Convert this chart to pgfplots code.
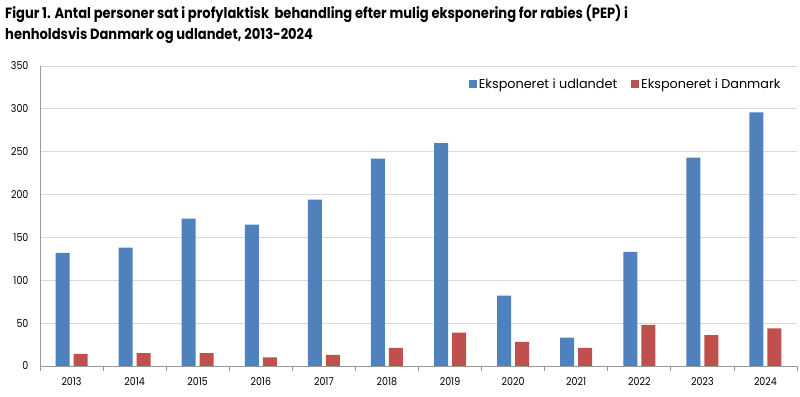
\documentclass[border=0pt]{standalone}
\usepackage{pgfplots}
\pgfplotsset{compat=1.18}
\usepackage{fontspec}
\setmainfont{Poppins}[FakeStretch=0.88]
\newfontfamily\legfont{Poppins}
\definecolor{cblue}{HTML}{4F81BD}
\definecolor{cred}{HTML}{C0504D}
\begin{document}
\begin{tikzpicture}[x=1pt,y=1pt]
\useasboundingbox (0,0) rectangle (800,396);
\node[anchor=north west, align=left, font=\bfseries\fontsize{14.85}{20.5}\selectfont, inner sep=0] at (5,391) {Figur 1. Antal personer sat i profylaktisk\ \ behandling efter mulig eksponering for rabies (PEP) i\\henholdsvis Danmark og udlandet, 2013-2024};
\begin{axis}[
  at={(40pt,30pt)}, anchor=south west,
  scale only axis, width=757pt, height=300pt,
  ybar=4pt, bar width=14pt,
  xmin=-0.5, xmax=11.5, ymin=0, ymax=350,
  ytick={0,50,...,350},
  xtick={0,...,11},
  xticklabels={2013,2014,2015,2016,2017,2018,2019,2020,2021,2022,2023,2024},
  minor xtick={-0.5,0.5,...,11.5},
  axis x line*=bottom, axis y line*=left,
  axis line style={draw=black!40, line width=0.9pt},
  ymajorgrids, grid style={draw=black!15, line width=0.8pt},
  major tick length=0pt, minor tick length=5pt, tick align=outside,
  minor tick style={draw=black!40, line width=0.8pt},
  tick label style={font=\fontsize{10.8}{11}\selectfont},
  /pgf/number format/assume math mode=true,
  yticklabel style={xshift=-8pt},
  xticklabel style={yshift=-8pt},
  legend style={at={(0.985,0.94)}, anchor=east, draw=none, fill=none,
    font=\legfont\fontsize{12.8}{13}\selectfont, legend columns=2,
    /tikz/every even column/.append style={column sep=12pt}},
  legend image code/.code={\draw[#1,draw=none] (0pt,-4pt) rectangle (8pt,4pt);},
]
\addplot[draw=none, fill=cblue] coordinates {(0,132) (1,138) (2,172) (3,165) (4,194) (5,242) (6,260) (7,82) (8,33) (9,133) (10,243) (11,296)};
\addplot[draw=none, fill=cred] coordinates {(0,14) (1,15) (2,15) (3,10) (4,13) (5,21) (6,39) (7,28) (8,21) (9,48) (10,36) (11,44)};
\legend{Eksponeret i udlandet, Eksponeret i Danmark}
\end{axis}
\end{tikzpicture}
\end{document}
